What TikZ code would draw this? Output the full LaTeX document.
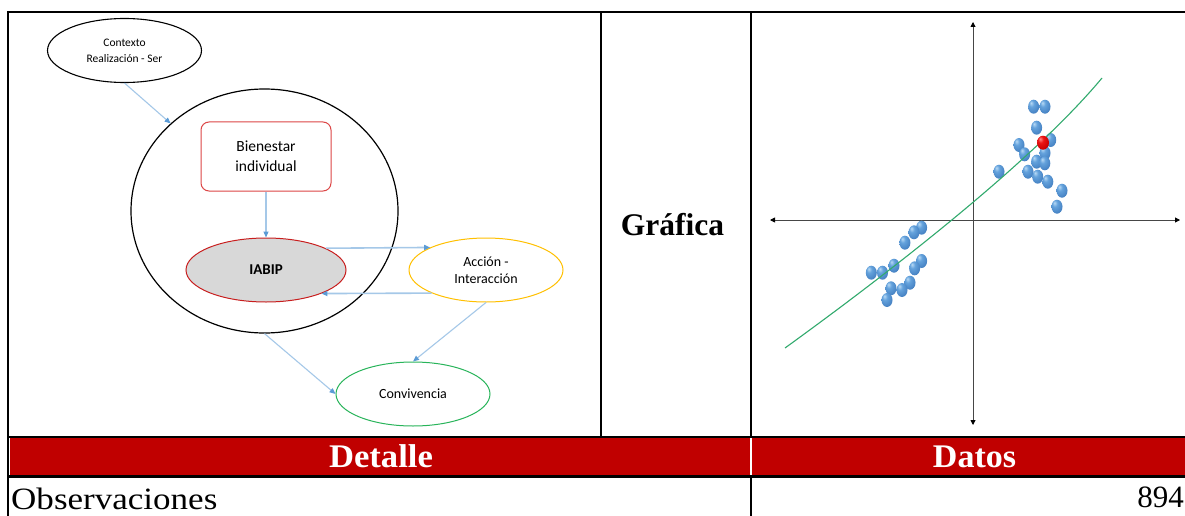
\documentclass[tikz,border=0pt]{standalone}
\usepackage{graphicx}
\usepackage{fontspec}
\setmainfont{Liberation Serif}
\newfontfamily\calib{Carlito}
\usetikzlibrary{arrows.meta,shapes.geometric}
\definecolor{arrblue}{RGB}{91,155,213}
\definecolor{arrline}{RGB}{165,200,232}
\definecolor{hdrred}{RGB}{192,0,0}
\definecolor{bienred}{RGB}{220,70,70}
\definecolor{iabred}{RGB}{200,30,30}
\definecolor{iabfill}{RGB}{216,216,216}
\definecolor{accyel}{RGB}{255,192,0}
\definecolor{convgreen}{RGB}{40,180,90}
\definecolor{curvegreen}{RGB}{50,170,110}
\definecolor{axisgray}{RGB}{70,70,70}
\definecolor{sphA}{RGB}{185,218,245}
\definecolor{sphB}{RGB}{100,162,220}
\definecolor{sphC}{RGB}{70,130,195}
\definecolor{sphD}{RGB}{45,95,160}
\definecolor{redA}{RGB}{255,140,140}
\definecolor{redB}{RGB}{235,20,20}
\definecolor{redC}{RGB}{200,0,0}
\definecolor{redD}{RGB}{130,0,0}
\pgfdeclareradialshading{bluesph}{\pgfpoint{-12bp}{14bp}}{color(0bp)=(sphA); color(12bp)=(sphB); color(32bp)=(sphC); color(50bp)=(sphD); color(70bp)=(sphD)}
\pgfdeclareradialshading{redsph}{\pgfpoint{-12bp}{14bp}}{color(0bp)=(redA); color(12bp)=(redB); color(32bp)=(redC); color(50bp)=(redD); color(70bp)=(redD)}
\begin{document}
\begin{tikzpicture}[x=1pt,y=-1pt,
  ell/.style={ellipse, draw, line width=1pt, inner sep=0pt, align=center,
    minimum width=154pt, minimum height=64pt, font=\calib\fontsize{14}{17}\selectfont},
  arr/.style={draw=arrline, line width=1.1pt, -{Triangle[length=6pt,width=5pt,color=arrblue]}},
  axis/.style={draw=axisgray, line width=0.9pt, {Triangle[length=5pt,width=5pt,color=black]}-{Triangle[length=5pt,width=5pt,color=black]}},
  tline/.style={line width=2pt, black},
  sphere/.style={shading=bluesph},
]
\useasboundingbox (0,0) rectangle (1185,516);
\fill[white] (0,0) rectangle (1185,516);

% ---------- diagram ----------
\node[ell, line width=1.1pt, font=\calib\fontsize{11.5}{16}\selectfont] (ctx) at (124.5,50.5) {Contexto\\Realización - Ser};
\node[ellipse, draw, line width=1.2pt, minimum width=267pt, minimum height=244pt, inner sep=0pt] (big) at (264.5,211) {};
\node[draw=bienred, line width=1pt, rounded corners=8pt, minimum width=130pt, minimum height=69pt,
  align=center, font=\calib\fontsize{15.5}{20}\selectfont] (bien) at (266,156.5) {Bienestar\\individual};
\node[ell, draw=iabred, fill=iabfill, minimum width=160pt, font=\calib\bfseries\fontsize{15}{18}\selectfont] (iabip) at (266,270) {IABIP};
\node[ell, draw=accyel] (acc) at (486,270) {Acción -\\Interacción};
\node[ell, draw=convgreen] (conv) at (413,394) {Convivencia};

\draw[arr] (ctx.south) -- (big.137.7);
\draw[arr] (bien.south) -- (iabip.north);
\draw[arr, line width=1.6pt] (iabip.20.8) -- (acc.158.6);
\draw[arr, line width=1.6pt] (acc.203.3) -- (iabip.337.5);
\draw[arr] (big.south) -- (conv.west);
\draw[arr] (acc.south) -- (conv.north);

% ---------- chart ----------
\draw[axis] (973,22) -- (973,425);
\draw[axis] (770,220) -- (1180,220);
\foreach \p in {(1033.6,106.7),(1045,106.7),(1036.6,127.7),(1050.7,140),(1019,145),(1024.6,154.3),(1045,153),(1036.6,161.7),(1044.8,163.3),(999,171.7),(1028,171.7),(1037.7,176.7),(1047.8,181.7),(1062,190.7),(1057,206.7),
  (921.6,227.7),(914,232.3),(904.9,242.7),(921.6,261),(894,265.7),(914.6,268.3),(882.5,272.7),(871.3,272.7),(910,282.7),(891,288.3),(902,290),(887,300)}
  \shade[sphere] \p ellipse [x radius=5.5pt, y radius=7pt];
\draw[curvegreen, line width=1.1pt] (785,348) .. controls (890,272) and (1032,162) .. (1102,78);
\shade[shading=redsph] (1043,142.7) ellipse [x radius=6pt, y radius=7pt];

% ---------- table ----------
\fill[hdrred] (10,438) rectangle (1185,475.5);
\draw[white, line width=2pt] (751,438) -- (751,475.5);
\draw[tline] (7,12) -- (1185,12);
\draw[tline] (8,11) -- (8,516);
\draw[tline] (601,12) -- (601,437);
\draw[tline] (751,12) -- (751,437);
\draw[tline] (751,476) -- (751,516);
\draw[tline] (7,437) -- (1185,437);
\draw[line width=3pt] (7,476.5) -- (1185,476.5);

\node[anchor=base, font=\bfseries\fontsize{31.5}{36}\selectfont, inner sep=0pt] (graf) at (672.5,235) {Gráfica};
\node[anchor=base, text=white, font=\bfseries\fontsize{33}{36}\selectfont, inner sep=0pt] (det) at (381,467) {\scalebox{1.05}[1]{Detalle}};
\node[anchor=base, text=white, font=\bfseries\fontsize{33}{36}\selectfont, inner sep=0pt] (dat) at (974.5,467) {\scalebox{1.03}[1]{Datos}};
\node[anchor=base west, font=\fontsize{31}{34}\selectfont, inner sep=0pt] (obs) at (11,509.5) {\scalebox{1.13}[1]{Observaciones}};
\node[anchor=base east, font=\fontsize{31}{36}\selectfont, inner sep=0pt] (num) at (1184,507) {894};
\end{tikzpicture}
\end{document}
